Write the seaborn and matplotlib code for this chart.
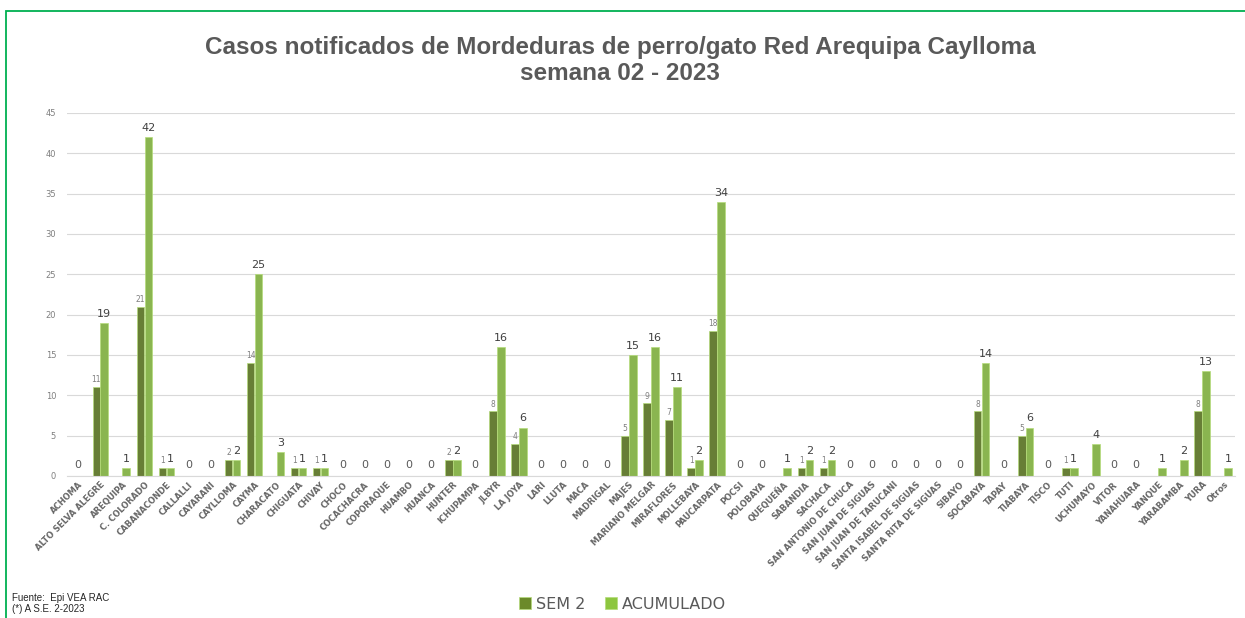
import pandas as pd
import matplotlib.pyplot as plt
import matplotlib.patches as mpatches
import seaborn as sns

# Datos: distritos y casos por serie
distritos = ['ACHOMA', 'ALTO SELVA ALEGRE', 'AREQUIPA', 'C. COLORADO', 'CABANACONDE',
             'CALLALLI', 'CAYARANI', 'CAYLLOMA', 'CAYMA', 'CHARACATO', 'CHIGUATA',
             'CHIVAY', 'CHOCO', 'COCACHACRA', 'COPORAQUE', 'HUAMBO', 'HUANCA', 'HUNTER',
             'ICHUPAMPA', 'JLBYR', 'LA JOYA', 'LARI', 'LLUTA', 'MACA', 'MADRIGAL',
             'MAJES', 'MARIANO MELGAR', 'MIRAFLORES', 'MOLLEBAYA', 'PAUCARPATA', 'POCSI',
             'POLOBAYA', 'QUEQUEÑA', 'SABANDIA', 'SACHACA', 'SAN ANTONIO DE CHUCA',
             'SAN JUAN DE SIGUAS', 'SAN JUAN DE TARUCANI', 'SANTA ISABEL DE SIGUAS',
             'SANTA RITA DE SIGUAS', 'SIBAYO', 'SOCABAYA', 'TAPAY', 'TIABAYA', 'TISCO',
             'TUTI', 'UCHUMAYO', 'VITOR', 'YANAHUARA', 'YANQUE', 'YARABAMBA', 'YURA',
             'Otros']

sem2 = [0, 11, 0, 21, 1, 0, 0, 2, 14, 0, 1, 1, 0, 0, 0, 0, 0, 2, 0, 8, 4, 0, 0, 0, 0,
        5, 9, 7, 1, 18, 0, 0, 0, 1, 1, 0, 0, 0, 0, 0, 0, 8, 0, 5, 0, 1, 0, 0, 0, 0, 0,
        8, 0]

acumulado = [0, 19, 1, 42, 1, 0, 0, 2, 25, 3, 1, 1, 0, 0, 0, 0, 0, 2, 0, 16, 6, 0, 0,
             0, 0, 15, 16, 11, 2, 34, 0, 0, 1, 2, 2, 0, 0, 0, 0, 0, 0, 14, 0, 6, 0, 1,
             4, 0, 0, 1, 2, 13, 1]

series = ['SEM 2', 'ACUMULADO']
colores = {'SEM 2': '#6b8a2a', 'ACUMULADO': '#8dc63f'}

df = pd.DataFrame({
    'distrito': distritos * 2,
    'casos': sem2 + acumulado,
    'serie': ['SEM 2'] * len(distritos) + ['ACUMULADO'] * len(distritos),
})

fig = plt.figure(figsize=(12.45, 6.18), dpi=100)
ax = fig.add_axes([0.054, 0.2298, 0.938, 0.5874])

sns.barplot(data=df, x='distrito', y='casos', hue='serie', order=distritos,
            hue_order=series, palette=colores, width=0.72, gap=0.04,
            edgecolor='#b5dc7a', linewidth=0.5, legend=False, ax=ax)

ax.set_ylim(0, 45)
ax.set_xlim(-0.5, len(distritos) - 0.5)
ax.set_yticks(range(0, 46, 5))
ax.yaxis.grid(True, color='#d9d9d9', linewidth=0.8)
ax.set_axisbelow(True)
for s in ['top', 'right', 'left']:
    ax.spines[s].set_visible(False)
ax.spines['bottom'].set_color('#d9d9d9')
ax.tick_params(axis='y', length=0, labelsize=6, labelcolor='#7f7f7f', pad=8)
ax.tick_params(axis='x', length=0, pad=3)
ax.set_xticks(range(len(distritos)))
ax.set_xticklabels(distritos, rotation=45, ha='right', rotation_mode='anchor',
                   fontsize=6, color='#666666', fontweight='bold')
ax.set_xlabel('')
ax.set_ylabel('')

# Etiquetas de datos
barras_sem, barras_acu = ax.containers[0], ax.containers[1]
for i in range(len(distritos)):
    if sem2[i] == 0 and acumulado[i] == 0:
        ax.text(i, 0.7, '0', ha='center', va='bottom', fontsize=8, color='#595959')
        continue
    if sem2[i] > 0:
        p = barras_sem[i]
        ax.annotate(str(sem2[i]), (p.get_x() + p.get_width() / 2, p.get_height()),
                    xytext=(0, 2), textcoords='offset points', ha='center',
                    va='bottom', fontsize=5.5, color='#7f7f7f')
    p = barras_acu[i]
    ax.annotate(str(acumulado[i]), (p.get_x() + p.get_width() / 2, p.get_height()),
                xytext=(0, 3), textcoords='offset points', ha='center',
                va='bottom', fontsize=8, color='#404040')

# Título
fig.text(0.498, 0.902, 'Casos notificados de Mordeduras de perro/gato Red Arequipa Caylloma\nsemana 02 - 2023',
         ha='center', va='center', fontsize=17.5, fontweight='bold', color='#595959',
         family='Liberation Sans', linespacing=1.15)

# Leyenda
manejadores = [mpatches.Patch(facecolor=colores[s], edgecolor='#b5dc7a', linewidth=0.5, label=s)
               for s in series]
fig.legend(handles=manejadores, loc='center', bbox_to_anchor=(0.5, 0.022), ncol=2,
           frameon=False, fontsize=11.5, handlelength=0.8, handleheight=0.8,
           handletextpad=0.3, columnspacing=1.2, labelcolor='#595959')

# Fuente
fig.text(0.0096, 0.032, 'Fuente:  Epi VEA RAC', fontsize=7, family='Liberation Sans',
         color='#262626', va='center')
fig.text(0.0096, 0.014, '(*) A S.E. 2-2023', fontsize=7, family='Liberation Sans',
         color='#262626', va='center')

# Borde verde
borde = mpatches.Rectangle((0.0048, -0.05), 1.1, 1.032, transform=fig.transFigure,
                           fill=False, edgecolor='#00b050', linewidth=1.3)
fig.patches.append(borde)

fig.savefig('out.png', dpi=100)
